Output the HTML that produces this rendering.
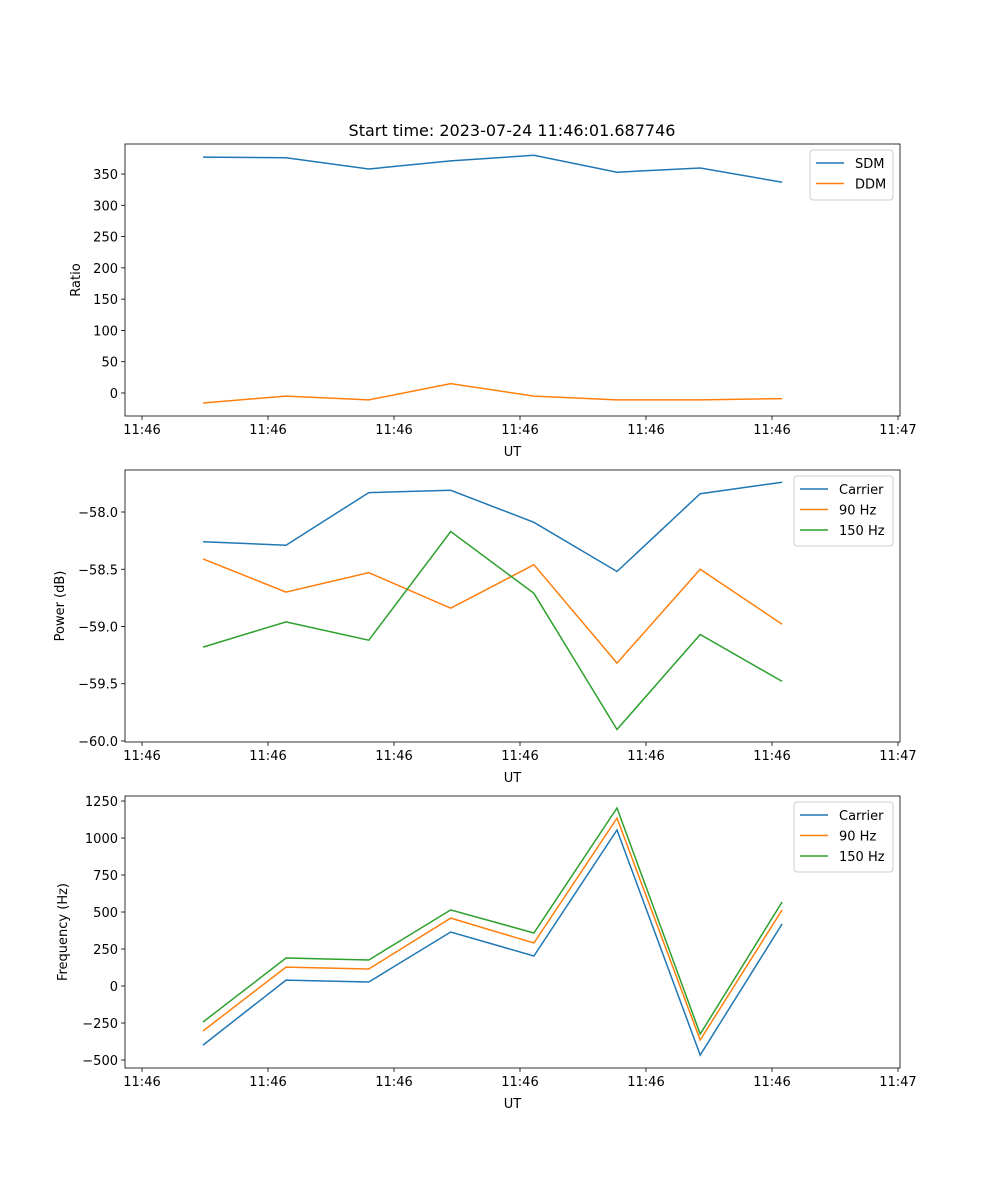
<!DOCTYPE html>
<html><head><meta charset="utf-8"><style>
body{margin:0;background:#fff}
svg{display:block;font-family:"DejaVu Sans","Liberation Sans",sans-serif}
</style></head><body>
<svg id="fig" width="1000" height="1200" xmlns="http://www.w3.org/2000/svg">
<text x="512" y="136" text-anchor="middle" font-size="16">Start time: 2023-07-24 11:46:01.687746</text>
</svg>
<script>
// time (seconds after 11:46:00)
const times = [4.84, 11.43, 18.0, 24.5, 31.1, 37.7, 44.3, 50.8];
const xTickVals = [0, 10, 20, 30, 40, 50, 60];
const xTickLabels = ["11:46","11:46","11:46","11:46","11:46","11:46","11:47"];
// panel 1
const sdm = [377, 376, 358, 371, 380, 353, 359.6, 337];
const ddm = [-16, -5, -11, 15, -5, -11, -11, -9];
const ratioTicks = [0, 50, 100, 150, 200, 250, 300, 350];
// panel 2
const pCarrier = [-58.26, -58.29, -57.83, -57.81, -58.09, -58.52, -57.84, -57.74];
const p90 = [-58.41, -58.70, -58.53, -58.84, -58.46, -59.32, -58.50, -58.98];
const p150 = [-59.18, -58.96, -59.12, -58.17, -58.71, -59.90, -59.07, -59.48];
const powerTicks = [-58.0, -58.5, -59.0, -59.5, -60.0];
const powerTickLabels = ["\u221258.0","\u221258.5","\u221259.0","\u221259.5","\u221260.0"];
// panel 3
const fCarrier = [-399, 40, 27, 365, 203, 1054, -466, 419];
const f90 = [-304, 128, 115, 459, 291, 1135, -365, 514];
const f150 = [-243, 189, 176, 514, 358, 1203, -324, 568];
const freqTicks = [-500, -250, 0, 250, 500, 750, 1000, 1250];
const freqTickLabels = ["\u2212500","\u2212250","0","250","500","750","1000","1250"];

const NS = "http://www.w3.org/2000/svg";
const svg = document.getElementById("fig");
const C = ["#1f77b4", "#ff7f0e", "#2ca02c"];
function mk(tag, attrs, parent) { const e = document.createElementNS(NS, tag); for (const k in attrs) e.setAttribute(k, attrs[k]); (parent || svg).appendChild(e); return e; }
const L = 125, R = 900;
const xMin = -1.35, xMax = 60.16;
function xs(t) { return L + (t - xMin) / (xMax - xMin) * (R - L); }

function panel(name, top, bot, yMin, yMax, ticks, tickLabels, ylabel, series, names, legend) {
  const g = mk("g", {});
  
  
  const ys = v => bot - (v - yMin) / (yMax - yMin) * (bot - top);
  series.forEach((s, i) => {
    const pts = s.map((v, j) => xs(times[j]).toFixed(1) + "," + ys(v).toFixed(1)).join(" ");
    const pl = mk("polyline", { points: pts, fill: "none", stroke: C[i], "stroke-width": 1.5 }, g);
    
    
  });
  const fr = mk("rect", { x: L, y: top, width: R - L, height: bot - top, fill: "none", stroke: "#000", "stroke-width": 0.8 }, g);
  
  
  xTickVals.forEach((t, i) => {
    const x = xs(t);
    mk("line", { x1: x, x2: x, y1: bot, y2: bot + 4, stroke: "#000", "stroke-width": 0.8 }, g);
    const tx = mk("text", { x: x, y: bot + 18, "text-anchor": "middle", "font-size": 13 }, g);
    tx.textContent = xTickLabels[i];
    
    
  });
  const xl = mk("text", { x: (L + R) / 2, y: bot + 40, "text-anchor": "middle", "font-size": 13 }, g);
  xl.textContent = "UT";
  
  
  ticks.forEach((v, i) => {
    const y = ys(v);
    mk("line", { x1: L - 4, x2: L, y1: y, y2: y, stroke: "#000", "stroke-width": 0.8 }, g);
    const tx = mk("text", { x: L - 7, y: y + 5, "text-anchor": "end", "font-size": 13 }, g);
    tx.textContent = tickLabels ? tickLabels[i] : String(v);
    
    
  });
  const yl = mk("text", { x: legend.ylx, y: (top + bot) / 2, "text-anchor": "middle", "font-size": 13, transform: `rotate(-90 ${legend.ylx} ${(top + bot) / 2})` }, g);
  yl.textContent = ylabel;
  
  
  const lg = mk("g", {}, g);
  
  
  mk("rect", { x: legend.x, y: top + 6, width: 893 - legend.x, height: 10 + 20 * names.length, rx: 3, fill: "#fff", stroke: "#ccc" }, lg);
  names.forEach((n, i) => {
    const y = top + 19 + 20.5 * i;
    mk("line", { x1: legend.x + 6, x2: legend.x + 34, y1: y, y2: y, stroke: C[i], "stroke-width": 1.5 }, lg);
    const t = mk("text", { x: legend.x + 45, y: y + 5, "font-size": 13 }, lg);
    t.textContent = n;
    
    
  });
}
panel("ratio-panel", 144, 416, -36.8, 398, ratioTicks, null, "Ratio", [sdm, ddm], ["SDM", "DDM"], { x: 810, ylx: 80 });
panel("power-panel", 470, 742, -60.009, -57.633, powerTicks, powerTickLabels, "Power (dB)", [pCarrier, p90, p150], ["Carrier", "90 Hz", "150 Hz"], { x: 794, ylx: 64 });
panel("frequency-panel", 796, 1068, -554, 1284, freqTicks, freqTickLabels, "Frequency (Hz)", [fCarrier, f90, f150], ["Carrier", "90 Hz", "150 Hz"], { x: 794, ylx: 67 });
</script>
</body></html>
